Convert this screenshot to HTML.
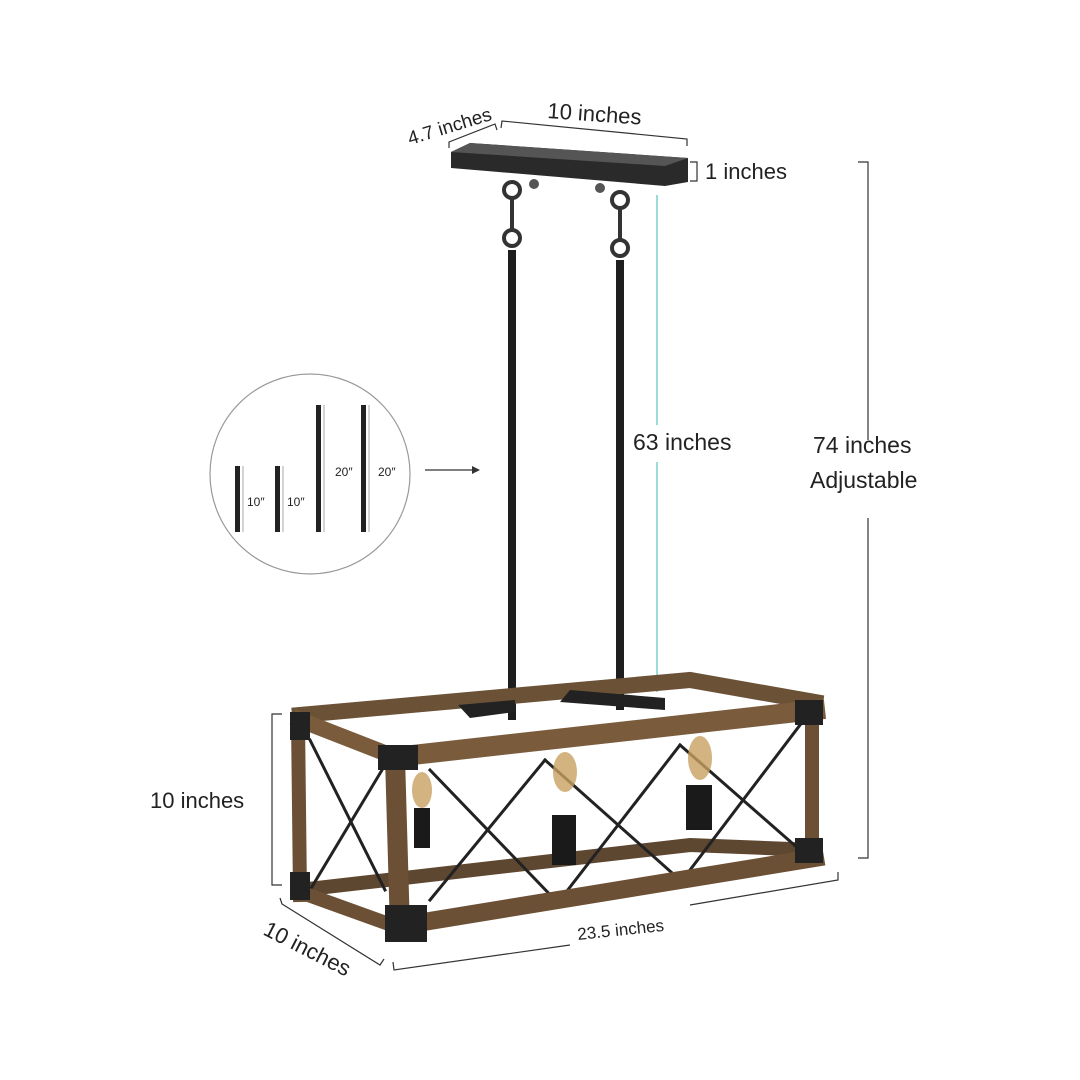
<!DOCTYPE html>
<html><head><meta charset="utf-8"><style>
html,body{margin:0;padding:0;background:#fff;}
svg{display:block}
text{font-family:"Liberation Sans",sans-serif;fill:#222}
</style></head><body>
<svg width="1080" height="1080" viewBox="0 0 1080 1080">
<text x="410" y="145" font-size="19" transform="rotate(-17 410 145)">4.7 inches</text>
<text x="547" y="118" font-size="22" transform="rotate(4 547 118)">10 inches</text>
<text x="705" y="179" font-size="22">1 inches</text>
<text x="633" y="450" font-size="23">63 inches</text>
<text x="813" y="453" font-size="23">74 inches</text>
<text x="810" y="488" font-size="23">Adjustable</text>
<text x="150" y="808" font-size="22">10 inches</text>
<text x="262" y="934" font-size="22" transform="rotate(27 262 934)">10 inches</text>
<text x="578" y="940" font-size="17" transform="rotate(-6 578 940)">23.5 inches</text>
<g stroke="#333" stroke-width="1.2" fill="none">
<polyline points="449,148 449,142 495,124 497,130"/>
<polyline points="501,128 502,121 687,139 687,146"/>
<polyline points="690,162 697,162 697,181 690,181"/>
<polyline points="858,162 868,162 868,440"/>
<polyline points="868,518 868,858 858,858"/>
<polyline points="282,714 272,714 272,885 282,885"/>
<polyline points="280,898 282,904 380,965 384,959"/>
<polyline points="393,962 394,970 570,945"/>
<polyline points="690,905 838,880 838,872"/>
<line x1="425" y1="470" x2="472" y2="470"/>
</g>
<polygon points="472,466 480,470 472,474" fill="#333"/>
<g stroke="#5cc4bf" stroke-width="1.2">
<line x1="657" y1="195" x2="657" y2="425"/>
<line x1="657" y1="462" x2="657" y2="692"/>
</g>
<circle cx="310" cy="474" r="100" fill="#fff" stroke="#999" stroke-width="1.2"/>
<g fill="#222">
<rect x="235" y="466" width="5" height="66"/>
<rect x="275" y="466" width="5" height="66"/>
<rect x="316" y="405" width="5" height="127"/>
<rect x="361" y="405" width="5" height="127"/>
</g>
<g stroke="#aaa" stroke-width="1">
<line x1="243" y1="466" x2="243" y2="532"/><line x1="283" y1="466" x2="283" y2="532"/>
<line x1="324" y1="405" x2="324" y2="532"/><line x1="369" y1="405" x2="369" y2="532"/>
</g>
<g font-size="12"><text x="247" y="506">10″</text><text x="287" y="506">10″</text><text x="335" y="476">20″</text><text x="378" y="476">20″</text></g>
<polygon points="451,152 470,143 688,158 688,182 665,186 451,168" fill="#2a2a2a"/>
<polygon points="451,152 470,143 688,158 665,166" fill="#555"/>
<g fill="#555"><circle cx="534" cy="184" r="5"/><circle cx="600" cy="188" r="5"/></g>
<g fill="none" stroke="#333" stroke-width="4">
<circle cx="512" cy="190" r="8"/><circle cx="512" cy="238" r="8"/>
<circle cx="620" cy="200" r="8"/><circle cx="620" cy="248" r="8"/>
<line x1="512" y1="198" x2="512" y2="230"/><line x1="620" y1="208" x2="620" y2="240"/>
</g>
<rect x="508" y="250" width="8" height="470" fill="#1e1e1e"/>
<rect x="616" y="260" width="8" height="450" fill="#1e1e1e"/>
<g stroke-linecap="square">
<polyline points="300,715 690,680 815,702" stroke="#6b5237" stroke-width="16" fill="none"/>
<polyline points="300,890 690,845 815,850" stroke="#5e4731" stroke-width="14" fill="none"/>
<g stroke="#222" stroke-width="3">
<line x1="430" y1="770" x2="560" y2="905"/><line x1="430" y1="900" x2="545" y2="760"/>
<line x1="545" y1="760" x2="680" y2="880"/><line x1="560" y1="900" x2="680" y2="745"/>
<line x1="680" y1="745" x2="800" y2="850"/><line x1="690" y1="870" x2="800" y2="725"/>
<line x1="310" y1="740" x2="385" y2="890"/><line x1="310" y1="890" x2="385" y2="765"/>
</g>
<line x1="395" y1="757" x2="815" y2="710" stroke="#7a5c3c" stroke-width="20"/>
<line x1="405" y1="925" x2="815" y2="858" stroke="#6b5035" stroke-width="18"/>
<line x1="298" y1="720" x2="300" y2="895" stroke="#6b5035" stroke-width="14"/>
<line x1="395" y1="757" x2="400" y2="930" stroke="#6b5035" stroke-width="20"/>
<line x1="812" y1="708" x2="812" y2="855" stroke="#6b5035" stroke-width="14"/>
<line x1="300" y1="720" x2="395" y2="757" stroke="#7a5c3c" stroke-width="16"/>
<line x1="300" y1="892" x2="400" y2="928" stroke="#6b5035" stroke-width="14"/>
</g>
<g fill="#222">
<rect x="290" y="712" width="20" height="28"/><rect x="290" y="872" width="20" height="28"/>
<rect x="378" y="745" width="40" height="25"/><rect x="385" y="905" width="42" height="37"/>
<rect x="795" y="700" width="28" height="25"/><rect x="795" y="838" width="28" height="25"/>
<polygon points="458,705 515,700 515,712 470,718"/><polygon points="570,690 665,698 665,710 560,702"/>
</g>
<g fill="#c8a060" opacity="0.8">
<ellipse cx="422" cy="790" rx="10" ry="18"/><ellipse cx="565" cy="772" rx="12" ry="20"/><ellipse cx="700" cy="758" rx="12" ry="22"/>
</g>
<g fill="#1a1a1a">
<rect x="414" y="808" width="16" height="40"/><rect x="552" y="815" width="24" height="50"/><rect x="686" y="785" width="26" height="45"/>
</g>
</svg>
</body></html>
